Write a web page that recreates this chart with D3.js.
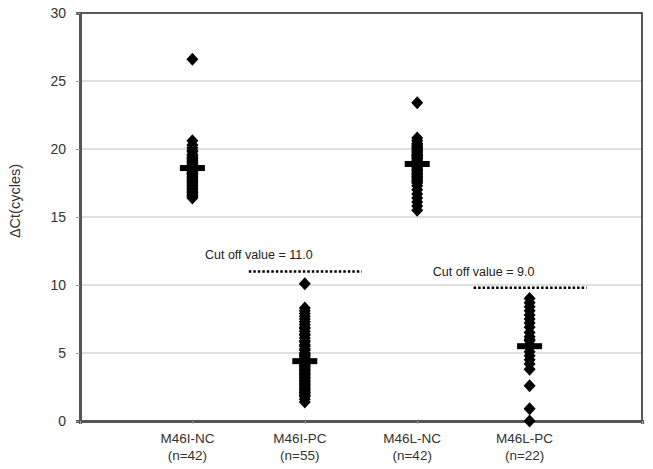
<!DOCTYPE html>
<html><head><meta charset="utf-8">
<script src="https://cdn.jsdelivr.net/npm/d3@7"></script>
<style>body{margin:0;background:#fff;}svg{display:block;font-family:"Liberation Sans",Arial,sans-serif;}</style>
</head><body>
<script>
const categories = ["M46I-NC","M46I-PC","M46L-NC","M46L-PC"];
const sampleSizes = ["(n=42)","(n=55)","(n=42)","(n=22)"];
const yTicks = [0,5,10,15,20,25,30];

const m46iNC = [26.6,20.6,20.3,20.1,19.9,19.8,19.6,19.5,19.4,19.3,19.2,19.1,19.0,18.9,18.8,18.7,18.6,18.6,18.5,18.4,18.3,18.2,18.1,18.0,17.9,17.8,17.7,17.6,17.5,17.4,17.3,17.2,17.1,17.0,16.9,16.8,16.7,16.6,16.5,16.4,18.2,18.8];
const m46iPC = [10.1,8.3,8.1,7.9,7.7,7.5,7.3,7.1,6.9,6.8,6.6,6.4,6.3,6.1,5.9,5.8,5.6,5.5,5.3,5.2,5.0,4.9,4.8,4.7,4.6,4.5,4.4,4.3,4.2,4.1,4.0,3.9,3.8,3.7,3.6,3.5,3.4,3.3,3.2,3.1,3.0,2.9,2.8,2.7,2.6,2.5,2.4,2.3,2.2,2.1,2.0,1.9,1.8,1.6,1.4];
const m46lNC = [23.4,20.8,20.6,20.4,20.3,20.1,20.0,19.9,19.8,19.7,19.6,19.5,19.4,19.3,19.2,19.1,19.0,18.9,18.9,18.8,18.7,18.6,18.5,18.4,18.3,18.2,18.1,18.0,17.9,17.8,17.7,17.6,17.5,17.3,17.0,16.7,16.4,16.1,15.8,15.5,19.5,20.2];
const m46lPC = [9.0,8.7,8.4,8.1,7.8,7.5,7.2,6.9,6.5,6.2,6.0,5.9,5.6,5.4,5.1,4.8,4.5,4.2,3.8,2.6,0.9,0.0];
const seriesValues = [m46iNC, m46iPC, m46lNC, m46lPC];
const means = [18.6, 4.4, 18.9, 5.5];

const cutoffLabels = ["Cut off value = 11.0", "Cut off value = 9.0"];
const cutoffCategory = [1, 3];
const cutoffLevel = [11.0, 9.8];

const W = 653, H = 469;
const svg = d3.select("body").append("svg").attr("width", W).attr("height", H);

const x = d3.scaleLinear().domain([0, 5]).range([80, 642]);
const y = d3.scaleLinear().domain([0, 30]).range([421, 13]);

svg.append("g").selectAll("line").data(yTicks.filter(t => t > 0 && t < 30)).join("line")
  .attr("x1", x(0)).attr("x2", x(5)).attr("y1", d => y(d)).attr("y2", d => y(d))
  .attr("stroke", "#bfbfbf").attr("stroke-width", 1);

svg.append("path")
  .attr("d", `M${x(0)},${y(30)}H${x(5)}V${y(0)}`)
  .attr("fill", "none").attr("stroke", "#222").attr("stroke-width", 1.5);

const yAxis = svg.append("g").attr("transform", `translate(${x(0)},0)`)
  .call(d3.axisLeft(y).tickValues(yTicks).tickSize(4).tickPadding(10));
yAxis.select(".domain").attr("stroke", "#555").attr("stroke-width", 3);
yAxis.selectAll(".tick line").attr("stroke", "#999");
yAxis.selectAll("text").attr("font-size", 14).attr("fill", "#333")
  .attr("font-family", "Liberation Sans, Arial, sans-serif");

const xAxis = svg.append("g").attr("transform", `translate(0,${y(0)})`)
  .call(d3.axisBottom(x).tickValues([0,1,2,3,4,5]).tickSize(3).tickFormat(""));
xAxis.select(".domain").attr("stroke", "#555").attr("stroke-width", 3);
xAxis.selectAll(".tick line").attr("stroke", "#aaa");

const lab = svg.append("g");
categories.forEach((c, i) => {
  const t = lab.append("text").attr("x", x(i + 1) - 5).attr("text-anchor", "middle")
    .attr("font-size", 13.5).attr("fill", "#333");
  t.append("tspan").attr("x", x(i + 1) - 5).attr("y", 443).text(c);
  t.append("tspan").attr("x", x(i + 1) - 5).attr("y", 460).text(sampleSizes[i]);
});

svg.append("text").attr("transform", `translate(20,201) rotate(-90)`)
  .attr("text-anchor", "middle").attr("font-size", 14.5).attr("fill", "#333")
  .text("ΔCt(cycles)");

const diamond = "M0,-6.5L6,0L0,6.5L-6,0Z";
seriesValues.forEach((vals, i) => {
  svg.append("g").selectAll("path").data(vals).join("path")
    .attr("d", diamond)
    .attr("transform", d => `translate(${x(i + 1)},${y(d)})`)
    .attr("fill", "#000");
});

svg.append("g").selectAll("rect").data(means).join("rect")
  .attr("x", (d, i) => x(i + 1) - 12.5).attr("y", d => y(d) - 3)
  .attr("width", 25).attr("height", 6).attr("fill", "#000");

cutoffLabels.forEach((txt, k) => {
  const cx = x(cutoffCategory[k] + 1);
  const ly = y(cutoffLevel[k]);
  svg.append("line").attr("x1", cx - 56).attr("x2", cx + 57)
    .attr("y1", ly).attr("y2", ly)
    .attr("stroke", "#000").attr("stroke-width", 2.5).attr("stroke-dasharray", "2.5,2");
  svg.append("text").attr("x", cx - 46).attr("y", ly - 12)
    .attr("text-anchor", "middle").attr("font-size", 12.5).attr("fill", "#222").text(txt);
});
</script>
</body></html>
